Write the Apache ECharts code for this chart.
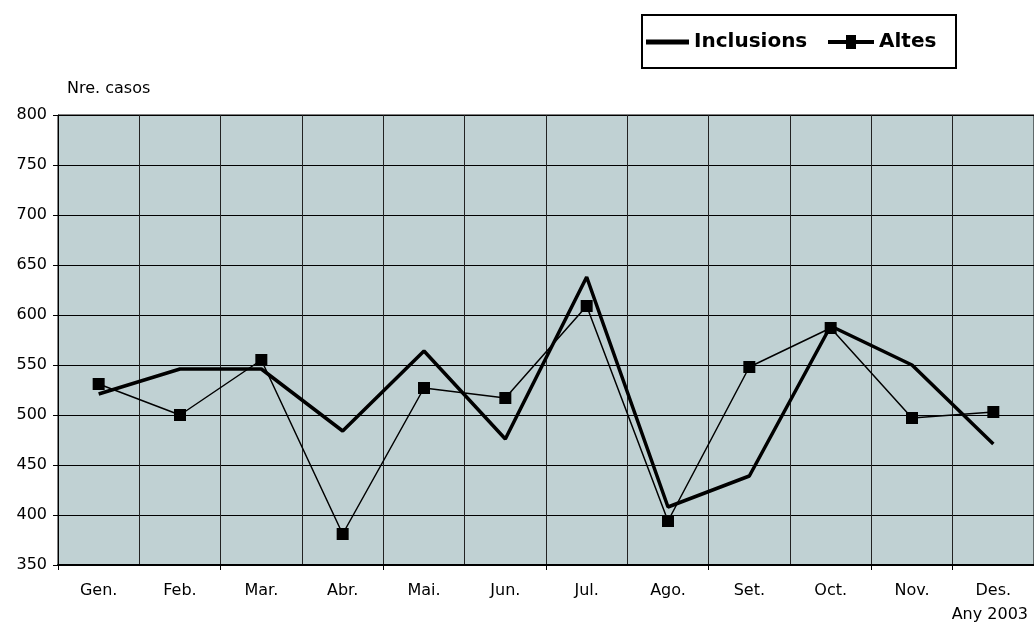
<!DOCTYPE html>
<html>
<head>
    <meta charset="utf-8"/>
    <title>Inclusions i altes 2003</title>
    <style>
        html, body { margin: 0; padding: 0; background: #fff; }
        #chart { width: 1034px; height: 626px; }
    </style>
</head>
<body>
<div id="chart"></div>
<script src="https://cdn.jsdelivr.net/npm/echarts@6/dist/echarts.min.js"></script>
<script type="text/javascript">
    var months = ['Gen.', 'Feb.', 'Mar.', 'Abr.', 'Mai.', 'Jun.', 'Jul.', 'Ago.', 'Set.', 'Oct.', 'Nov.', 'Des.'];
    var inclusions = [521, 546, 546, 484, 564, 476, 638, 408, 439, 589, 550, 471];
    var altes = [531, 500, 555, 381, 527, 517, 609, 394, 548, 587, 497, 503];

    var font = 'DejaVu Sans';

    var option = {
        animation: false,
        textStyle: { fontFamily: font, color: '#000' },
        grid: {
            left: 58, top: 115, right: 0, bottom: 61,
            show: true,
            backgroundColor: '#c0d1d3',
            borderColor: '#000',
            borderWidth: 1
        },
        graphic: [{
            type: 'rect',
            z: 0,
            shape: { x: 642, y: 15, width: 314, height: 53 },
            style: { fill: '#fff', stroke: '#000', lineWidth: 2 }
        }],
        legend: [{
            left: 646, top: 32, padding: 0,
            itemWidth: 43, itemHeight: 5,
            data: [{ name: 'Inclusions', icon: 'rect' }],
            textStyle: { fontFamily: font, fontWeight: 'bold', fontSize: 20, color: '#000' }
        }, {
            left: 828, top: 32, padding: 0,
            itemWidth: 46, itemHeight: 14,
            data: [{ name: 'Altes', icon: 'path://M0,5H18V0H28V5H46V9H28V14H18V9H0Z' }],
            textStyle: { fontFamily: font, fontWeight: 'bold', fontSize: 20, color: '#000' }
        }],
        xAxis: {
            type: 'category',
            data: months,
            boundaryGap: true,
            name: 'Any 2003',
            nameLocation: 'end',
            nameGap: -6,
            nameTextStyle: { fontFamily: font, fontSize: 16, color: '#000', align: 'right', verticalAlign: 'top', padding: [42, 0, 0, 0] },
            axisLine: { lineStyle: { color: '#000', width: 2 } },
            axisTick: { show: true, interval: 1, length: 5, lineStyle: { color: '#000' } },
            axisLabel: { interval: 0, margin: 18, fontFamily: font, fontSize: 16, color: '#000' },
            splitLine: { show: true, interval: 0, lineStyle: { color: '#222', width: 1 } }
        },
        yAxis: {
            type: 'value',
            min: 350, max: 800, interval: 50,
            name: 'Nre. casos',
            nameLocation: 'end',
            nameGap: 18,
            nameTextStyle: { fontFamily: font, fontSize: 16, color: '#000', align: 'left', padding: [0, 0, 0, 9] },
            axisLine: { show: true, lineStyle: { color: '#000', width: 1 } },
            axisTick: { show: true, length: 5, lineStyle: { color: '#000' } },
            axisLabel: { margin: 11, fontFamily: font, fontSize: 16, color: '#000' },
            splitLine: { show: true, lineStyle: { color: '#000', width: 1 } }
        },
        series: [{
            name: 'Inclusions',
            type: 'line',
            data: inclusions,
            symbol: 'none',
            itemStyle: { color: '#000' },
            lineStyle: { color: '#000', width: 3.5 }
        }, {
            name: 'Altes',
            type: 'line',
            data: altes,
            symbol: 'rect',
            symbolSize: 12,
            itemStyle: { color: '#000' },
            lineStyle: { color: '#000', width: 1.5 }
        }]
    };

    var chart = echarts.init(document.getElementById('chart'));
    chart.setOption(option);
</script>
</body>
</html>
